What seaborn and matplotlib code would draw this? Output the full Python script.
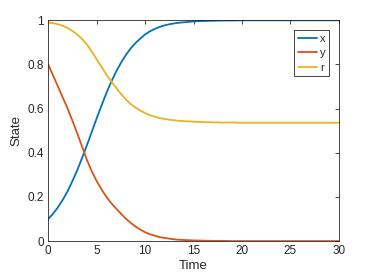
import numpy as np
import pandas as pd
import matplotlib
matplotlib.use("Agg")
import matplotlib.pyplot as plt
import seaborn as sns

# values (half steps where the curves bend)
time = [0, 0.5, 1, 1.5, 2, 2.5, 3, 3.5, 4, 4.5, 5, 5.5, 6, 6.5, 7, 7.5, 8, 8.5,
        9, 9.5, 10, 10.5, 11, 11.5, 12, 12.5, 13, 13.5, 14, 14.5, 15,
        16, 17, 18, 19, 20, 21, 22, 23, 24, 25, 26, 27, 28, 29, 30]
x_vals = [0.100, 0.124, 0.153, 0.187, 0.226, 0.272, 0.322, 0.377, 0.435, 0.495,
          0.556, 0.614, 0.670, 0.721, 0.767, 0.807, 0.842, 0.872, 0.897, 0.917,
          0.936, 0.950, 0.961, 0.970, 0.977, 0.982, 0.986, 0.989, 0.991, 0.993, 0.995,
          0.997, 0.998, 0.999, 0.999, 1.000, 1.000, 1.000, 1.000, 1.000, 1.000,
          1.000, 1.000, 1.000, 1.000, 1.000]
y_vals = [0.800, 0.750, 0.700, 0.650, 0.600, 0.545, 0.487, 0.427, 0.367, 0.315,
          0.272, 0.234, 0.200, 0.172, 0.148, 0.124, 0.102, 0.083, 0.066, 0.052,
          0.040, 0.031, 0.024, 0.018, 0.014, 0.011, 0.008, 0.006, 0.005, 0.004, 0.003,
          0.002, 0.001, 0.001, 0.000, 0.000, 0.000, 0.000, 0.000, 0.000, 0.000,
          0.000, 0.000, 0.000, 0.000, 0.000]
r_vals = [0.990, 0.987, 0.982, 0.975, 0.965, 0.952, 0.935, 0.915, 0.890, 0.858,
          0.823, 0.789, 0.755, 0.724, 0.695, 0.667, 0.642, 0.621, 0.605, 0.591,
          0.580, 0.570, 0.563, 0.557, 0.553, 0.550, 0.547, 0.545, 0.543, 0.542, 0.541,
          0.539, 0.538, 0.537, 0.537, 0.536, 0.536, 0.536, 0.536, 0.536, 0.536,
          0.536, 0.536, 0.536, 0.536, 0.536]
series_names = ['x', 'y', 'r']
colors = ['#0072BD', '#D95319', '#EDB120']

df = pd.DataFrame({
    'Time': time * 3,
    'State': x_vals + y_vals + r_vals,
    'var': ['x'] * len(time) + ['y'] * len(time) + ['r'] * len(time),
})

sns.set_theme(style="white")
plt.rcParams['font.family'] = ['Liberation Sans', 'DejaVu Sans']
axcol = '#262626'

fig = plt.figure(figsize=(3.74, 2.8), dpi=100)
ax = fig.add_axes([0.129, 0.139, 0.777, 0.7885])

sns.lineplot(data=df, x='Time', y='State', hue='var', hue_order=series_names,
             palette=colors, linewidth=1.3, ax=ax)

ax.set_xlim(0, 30)
ax.set_ylim(0, 1)
ax.set_xticks([0, 5, 10, 15, 20, 25, 30])
ax.set_yticks([0, 0.2, 0.4, 0.6, 0.8, 1.0])
ax.set_yticklabels(['0', '0.2', '0.4', '0.6', '0.8', '1'])
ax.tick_params(direction='in', top=True, right=True, length=3, width=0.6,
               colors=axcol, labelsize=8.5, pad=3)
for s in ax.spines.values():
    s.set_color(axcol)
    s.set_linewidth(0.6)
    s.set_visible(True)
ax.set_xlabel('Time', fontsize=9.5, color=axcol, labelpad=2)
ax.set_ylabel('State', fontsize=9.5, color=axcol, labelpad=4)

leg = ax.legend(loc='upper right', frameon=True, fancybox=False, framealpha=1,
                edgecolor=axcol, fontsize=8, handlelength=1.7, handletextpad=0.25,
                borderpad=0.35, labelspacing=0.4, borderaxespad=0.85)
leg.get_frame().set_linewidth(0.6)

fig.savefig('out.png', dpi=100)
